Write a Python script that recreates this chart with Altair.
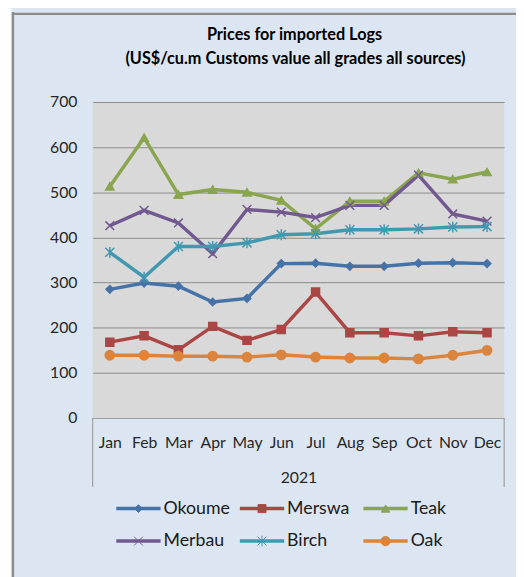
import altair as alt
import pandas as pd

months = ["Jan", "Feb", "Mar", "Apr", "May", "Jun", "Jul", "Aug", "Sep", "Oct", "Nov", "Dec"]
series_names = ["Okoume", "Merswa", "Teak", "Merbau", "Birch", "Oak"]
colors = ["#4572a7", "#aa4643", "#89a54e", "#71588f", "#4198af", "#db843d"]

okoume = [285, 299, 292, 257, 265, 342, 343, 336, 336, 343, 344, 342]
merswa = [168, 182, 151, 203, 172, 196, 279, 189, 189, 182, 191, 189]
teak = [513, 621, 495, 506, 500, 482, 419, 480, 480, 543, 529, 545]
merbau = [426, 460, 432, 364, 462, 456, 444, 471, 471, 538, 452, 436]
birch = [367, 312, 380, 380, 388, 406, 408, 417, 417, 419, 423, 424]
oak = [139, 139, 137, 137, 135, 140, 135, 133, 133, 131, 139, 150]

values = [okoume, merswa, teak, merbau, birch, oak]

title_lines = ["Prices for imported Logs", "(US$/cu.m Customs value all grades all sources)"]
x_title = "2021"

X_PATH = "M-1,-1L1,1M-1,1L1,-1"
STAR_PATH = "M-1,-1L1,1M-1,1L1,-1M0,-1.2L0,1.2"
shapes = ["diamond", "square", "triangle-up", X_PATH, STAR_PATH, "circle"]
sizes = [60, 90, 100, 60, 60, 90]

rows = []
for name, vals in zip(series_names, values):
    for m, v in zip(months, vals):
        rows.append({"month": m, "series": name, "value": v})
df = pd.DataFrame(rows)

FONT = "Lato"
W, H = 418, 321
one = pd.DataFrame({"a": [0]})

color_scale = alt.Scale(domain=series_names, range=colors)
shape_scale = alt.Scale(domain=series_names, range=shapes)
size_scale = alt.Scale(domain=series_names, range=sizes)

# outer border of the chart panel + white strip at the left
strip = alt.Chart(one).mark_rect(fill="#ffffff").encode(
    x=alt.value(-90), x2=alt.value(-82.5), y=alt.value(-95), y2=alt.value(490))
border_l = alt.Chart(one).mark_rule(color="#8c8c8c", strokeWidth=2.5).encode(
    x=alt.value(-81), y=alt.value(-91.5), y2=alt.value(490))
border_t = alt.Chart(one).mark_rule(color="#8c8c8c", strokeWidth=2.5).encode(
    y=alt.value(-89.5), x=alt.value(-82), x2=alt.value(440))

title1 = alt.Chart(one).mark_text(font=FONT, fontSize=16.5, fontWeight="bold", color="#000000",
                                  align="center", baseline="middle", text=title_lines[0]).encode(
    x=alt.value(205), y=alt.value(-68))
title2 = alt.Chart(one).mark_text(font=FONT, fontSize=16.5, fontWeight="bold", color="#000000",
                                  align="center", baseline="middle", text=title_lines[1]).encode(
    x=alt.value(206), y=alt.value(-44))

x_enc = alt.X(
    "month:N", sort=months, title=x_title,
    scale=alt.Scale(paddingInner=0, paddingOuter=0),
    axis=alt.Axis(labelAngle=0, ticks=False, domain=True, domainColor="#a0a0a0",
                  labelFont=FONT, labelFontSize=16, labelColor="#262626", labelPadding=17,
                  titleFont=FONT, titleFontSize=16, titleColor="#262626", titleFontWeight="normal",
                  titlePadding=20, grid=False)
)
y_enc = alt.Y(
    "value:Q", title=None,
    scale=alt.Scale(domain=[0, 700], nice=False, zero=True),
    axis=alt.Axis(values=list(range(0, 701, 100)), ticks=False, domain=False, grid=True,
                  gridColor="#8c8c8c", gridWidth=1,
                  labelFont=FONT, labelFontSize=16, labelColor="#262626", labelPadding=16)
)

lines = alt.Chart(df).mark_line(strokeWidth=3.5).encode(
    x=x_enc, y=y_enc,
    color=alt.Color("series:N", scale=color_scale, legend=None),
)

points = alt.Chart(df).mark_point(filled=True, strokeWidth=1.5, opacity=1).encode(
    x=alt.X("month:N", sort=months),
    y=alt.Y("value:Q"),
    color=alt.Color("series:N", scale=color_scale, legend=None),
    stroke=alt.Stroke("series:N", scale=color_scale, legend=None),
    shape=alt.Shape("series:N", scale=shape_scale, legend=None),
    size=alt.Size("series:N", scale=size_scale, legend=None),
)

box_l = alt.Chart(one).mark_rule(color="#a0a0a0", strokeWidth=1.2).encode(
    x=alt.value(0), y=alt.value(H), y2=alt.value(H + 70))
box_r = alt.Chart(one).mark_rule(color="#a0a0a0", strokeWidth=1.2).encode(
    x=alt.value(W), y=alt.value(H), y2=alt.value(H + 70))

# manual legend (two rows, three columns)
leg_rows = []
for i, name in enumerate(series_names):
    col, row = i % 3, i // 3
    x0 = 24 + col * 125.5
    y0 = 413 + row * 33
    leg_rows.append({"series": name, "x0": x0, "x1": x0 + 45, "xm": x0 + 22.5,
                     "xt": x0 + 48, "y": y0})
leg = pd.DataFrame(leg_rows)

leg_lines = alt.Chart(leg).mark_rule(strokeWidth=3.5).encode(
    x=alt.X("x0:Q", scale=None, axis=None), x2="x1:Q",
    y=alt.Y("y:Q", scale=None, axis=None),
    color=alt.Color("series:N", scale=color_scale, legend=None),
)
leg_pts = alt.Chart(leg).mark_point(filled=True, strokeWidth=1, opacity=1).encode(
    x=alt.X("xm:Q", scale=None, axis=None),
    y=alt.Y("y:Q", scale=None, axis=None),
    color=alt.Color("series:N", scale=color_scale, legend=None),
    stroke=alt.Stroke("series:N", scale=color_scale, legend=None),
    shape=alt.Shape("series:N", scale=shape_scale, legend=None),
    size=alt.Size("series:N", scale=size_scale, legend=None),
)
leg_text = alt.Chart(leg).mark_text(align="left", baseline="middle", font=FONT, fontSize=18,
                                    color="#1a1a1a").encode(
    x=alt.X("xt:Q", scale=None, axis=None),
    y=alt.Y("y:Q", scale=None, axis=None),
    text="series:N",
)

chart = alt.layer(strip, border_l, border_t, title1, title2, lines, points, box_l, box_r,
                  leg_lines, leg_pts, leg_text).properties(
    width=W, height=H,
    autosize=alt.AutoSizeParams(type="none"),
    padding={"left": 86, "top": 91, "right": 12, "bottom": 157},
).configure(background="#dce6f2").configure_view(fill="#d9d9d9", stroke=None)

chart.save("out.html", embed_options={"renderer": "svg", "actions": False})
